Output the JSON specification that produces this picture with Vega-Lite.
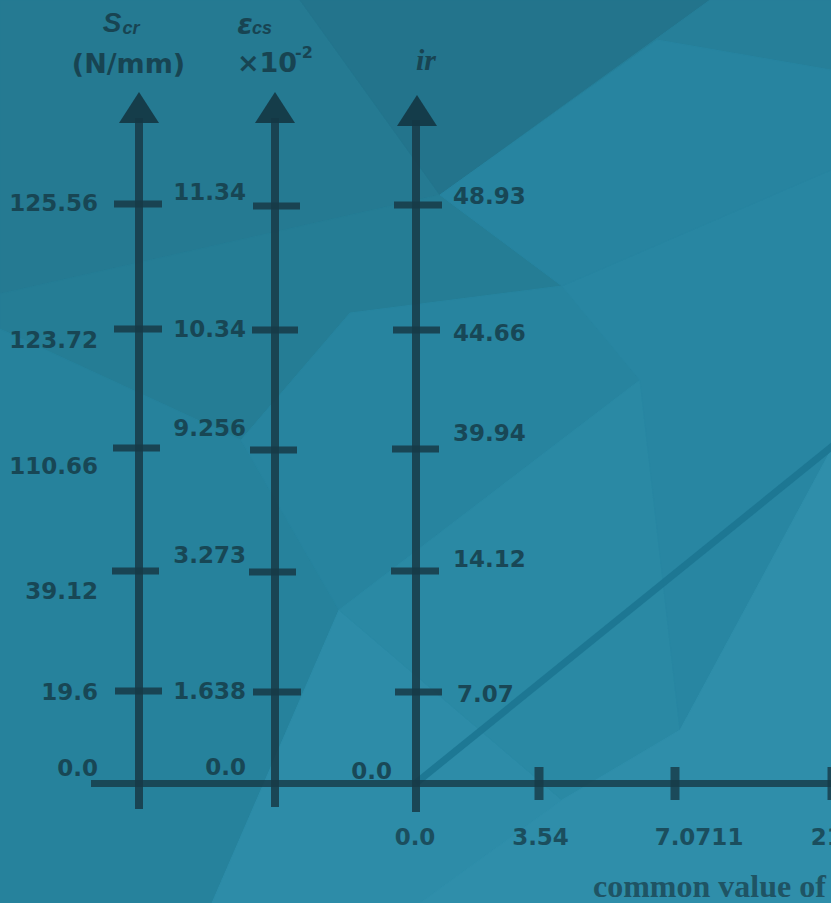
{
  "$schema": "https://vega.github.io/schema/vega-lite/v6.json",
  "width": 831,
  "height": 903,
  "autosize": "none",
  "padding": 0,
  "background": "#2785a0",
  "view": {"stroke": null},
  "config": {"font": "DejaVu Sans"},
  "datasets": {
    "bg": [
      {"p": "P1", "o": 1, "x": 0, "y": 0}, {"p": "P1", "o": 2, "x": 300, "y": 0}, {"p": "P1", "o": 3, "x": 440, "y": 195}, {"p": "P1", "o": 4, "x": 0, "y": 294},
      {"p": "P2", "o": 1, "x": 300, "y": 0}, {"p": "P2", "o": 2, "x": 710, "y": 0}, {"p": "P2", "o": 3, "x": 440, "y": 195},
      {"p": "P3", "o": 1, "x": 710, "y": 0}, {"p": "P3", "o": 2, "x": 831, "y": 0}, {"p": "P3", "o": 3, "x": 831, "y": 70}, {"p": "P3", "o": 4, "x": 657, "y": 40}, {"p": "P3", "o": 5, "x": 440, "y": 195},
      {"p": "P4", "o": 1, "x": 0, "y": 294}, {"p": "P4", "o": 2, "x": 440, "y": 195}, {"p": "P4", "o": 3, "x": 562, "y": 286}, {"p": "P4", "o": 4, "x": 350, "y": 313}, {"p": "P4", "o": 5, "x": 241, "y": 440}, {"p": "P4", "o": 6, "x": 0, "y": 329},
      {"p": "P5", "o": 1, "x": 0, "y": 329}, {"p": "P5", "o": 2, "x": 241, "y": 440}, {"p": "P5", "o": 3, "x": 339, "y": 610}, {"p": "P5", "o": 4, "x": 212, "y": 903}, {"p": "P5", "o": 5, "x": 0, "y": 903},
      {"p": "P6", "o": 1, "x": 241, "y": 440}, {"p": "P6", "o": 2, "x": 350, "y": 313}, {"p": "P6", "o": 3, "x": 562, "y": 286}, {"p": "P6", "o": 4, "x": 640, "y": 380}, {"p": "P6", "o": 5, "x": 339, "y": 610},
      {"p": "P7", "o": 1, "x": 339, "y": 610}, {"p": "P7", "o": 2, "x": 562, "y": 800}, {"p": "P7", "o": 3, "x": 420, "y": 903}, {"p": "P7", "o": 4, "x": 212, "y": 903},
      {"p": "P8", "o": 1, "x": 339, "y": 610}, {"p": "P8", "o": 2, "x": 640, "y": 380}, {"p": "P8", "o": 3, "x": 680, "y": 730}, {"p": "P8", "o": 4, "x": 562, "y": 800},
      {"p": "P9", "o": 1, "x": 562, "y": 286}, {"p": "P9", "o": 2, "x": 831, "y": 170}, {"p": "P9", "o": 3, "x": 831, "y": 450}, {"p": "P9", "o": 4, "x": 680, "y": 730}, {"p": "P9", "o": 5, "x": 640, "y": 380},
      {"p": "P10", "o": 1, "x": 657, "y": 40}, {"p": "P10", "o": 2, "x": 831, "y": 70}, {"p": "P10", "o": 3, "x": 831, "y": 170}, {"p": "P10", "o": 4, "x": 562, "y": 286}, {"p": "P10", "o": 5, "x": 440, "y": 195},
      {"p": "P11", "o": 1, "x": 680, "y": 730}, {"p": "P11", "o": 2, "x": 831, "y": 450}, {"p": "P11", "o": 3, "x": 831, "y": 903}, {"p": "P11", "o": 4, "x": 420, "y": 903}, {"p": "P11", "o": 5, "x": 562, "y": 800}
    ],
    "vlines": [
      {"x": 139, "y": 809, "y2": 118},
      {"x": 275, "y": 807, "y2": 118},
      {"x": 416, "y": 812, "y2": 120}
    ],
    "hline": [{"x": 91, "x2": 831, "y": 783.5}],
    "vticks": [
      {"x": 114, "x2": 162, "y": 204}, {"x": 114, "x2": 162, "y": 329}, {"x": 113, "x2": 160, "y": 448}, {"x": 112, "x2": 159, "y": 571}, {"x": 115, "x2": 162, "y": 691},
      {"x": 253, "x2": 300, "y": 206}, {"x": 252, "x2": 298, "y": 330}, {"x": 250, "x2": 297, "y": 450}, {"x": 249, "x2": 296, "y": 572}, {"x": 253, "x2": 301, "y": 692},
      {"x": 394, "x2": 442, "y": 205}, {"x": 393, "x2": 440, "y": 330}, {"x": 392, "x2": 439, "y": 449}, {"x": 391, "x2": 439, "y": 571}, {"x": 395, "x2": 442, "y": 692}
    ],
    "hticks": [
      {"x": 539, "y": 767, "y2": 800},
      {"x": 675, "y": 767, "y2": 800},
      {"x": 832, "y": 767, "y2": 800}
    ],
    "arrows": [
      {"x": 139, "y": 107.5},
      {"x": 275, "y": 107.5},
      {"x": 417, "y": 110.5}
    ],
    "diag": [
      {"x": 416, "y": 783},
      {"x": 840, "y": 440}
    ],
    "rlabels": [
      {"x": 98, "y": 204, "t": "125.56"}, {"x": 98, "y": 341, "t": "123.72"}, {"x": 98, "y": 467, "t": "110.66"}, {"x": 98, "y": 592, "t": "39.12"}, {"x": 98, "y": 693, "t": "19.6"}, {"x": 98, "y": 769, "t": "0.0"},
      {"x": 246, "y": 193, "t": "11.34"}, {"x": 246, "y": 330, "t": "10.34"}, {"x": 246, "y": 429, "t": "9.256"}, {"x": 246, "y": 556, "t": "3.273"}, {"x": 246, "y": 692, "t": "1.638"}, {"x": 246, "y": 768, "t": "0.0"},
      {"x": 392, "y": 771.5, "t": "0.0"}
    ],
    "llabels": [
      {"x": 453, "y": 197, "t": "48.93"}, {"x": 453, "y": 334, "t": "44.66"}, {"x": 453, "y": 434, "t": "39.94"}, {"x": 453, "y": 560, "t": "14.12"}, {"x": 457, "y": 695, "t": "7.07"}
    ],
    "blabels": [
      {"x": 415, "y": 838, "t": "0.0"}, {"x": 540.5, "y": 838, "t": "3.54"}, {"x": 699, "y": 838, "t": "7.0711"}, {"x": 847, "y": 838, "t": "21.21"}
    ],
    "title": [{"x": 593, "y": 897, "t": "common value of"}],
    "hS": [{"x": 112, "y": 24, "t": "S"}],
    "hE": [{"x": 245, "y": 26, "t": "ε"}],
    "hsub": [
      {"x": 131, "y": 29, "t": "cr"},
      {"x": 262, "y": 29, "t": "cs"}
    ],
    "hunit": [
      {"x": 128.5, "y": 65, "t": "(N/mm)"},
      {"x": 267, "y": 64, "t": "×10"}
    ],
    "hsup": [{"x": 304, "y": 53, "t": "-2"}],
    "hir": [{"x": 426, "y": 70, "t": "ir"}]
  },
  "encoding": {
    "x": {"field": "x", "type": "quantitative", "scale": {"domain": [0, 831], "nice": false, "zero": false}, "axis": null},
    "y": {"field": "y", "type": "quantitative", "scale": {"domain": [0, 903], "nice": false, "zero": false, "reverse": true}, "axis": null}
  },
  "layer": [
    {
      "data": {"name": "bg"},
      "mark": {"type": "line", "interpolate": "linear-closed", "strokeWidth": 1},
      "encoding": {
        "order": {"field": "o", "type": "quantitative"},
        "detail": {"field": "p", "type": "nominal"},
        "fill": {"field": "p", "type": "nominal", "legend": null, "scale": {"domain": ["P1","P2","P3","P4","P5","P6","P7","P8","P9","P10","P11"], "range": ["#257a92","#23748c","#267f99","#257d95","#26829c","#27849f","#2d8ca8","#2a89a4","#2886a2","#2784a0","#2f8eaa"]}},
        "stroke": {"field": "p", "type": "nominal", "legend": null, "scale": {"domain": ["P1","P2","P3","P4","P5","P6","P7","P8","P9","P10","P11"], "range": ["#257a92","#23748c","#267f99","#257d95","#26829c","#27849f","#2d8ca8","#2a89a4","#2886a2","#2784a0","#2f8eaa"]}}
      }
    },
    {
      "data": {"name": "diag"},
      "mark": {"type": "line", "stroke": "#1b7490", "strokeWidth": 7, "opacity": 0.85, "strokeCap": "butt"},
      "encoding": {}
    },
    {
      "data": {"name": "hline"},
      "mark": {"type": "rule", "stroke": "#173a46", "strokeWidth": 7, "opacity": 0.8},
      "encoding": {"x2": {"field": "x2"}}
    },
    {
      "data": {"name": "vlines"},
      "mark": {"type": "rule", "stroke": "#173a46", "strokeWidth": 8, "opacity": 0.85},
      "encoding": {"y2": {"field": "y2"}}
    },
    {
      "data": {"name": "vticks"},
      "mark": {"type": "rule", "stroke": "#173a46", "strokeWidth": 7, "opacity": 0.85},
      "encoding": {"x2": {"field": "x2"}}
    },
    {
      "data": {"name": "hticks"},
      "mark": {"type": "rule", "stroke": "#173a46", "strokeWidth": 9, "opacity": 0.8},
      "encoding": {"y2": {"field": "y2"}}
    },
    {
      "data": {"name": "arrows"},
      "mark": {"type": "point", "shape": "M0,-0.78L1,0.78L-1,0.78Z", "size": 1600, "filled": true, "fill": "#133744", "opacity": 0.92, "strokeWidth": 0}
    },
    {
      "data": {"name": "rlabels"},
      "mark": {"type": "text", "align": "right", "baseline": "middle", "font": "DejaVu Sans", "fontWeight": "bold", "fontSize": 23, "fill": "#173f4c", "opacity": 0.88},
      "encoding": {"text": {"field": "t"}}
    },
    {
      "data": {"name": "llabels"},
      "mark": {"type": "text", "align": "left", "baseline": "middle", "font": "DejaVu Sans", "fontWeight": "bold", "fontSize": 23, "fill": "#173f4c", "opacity": 0.88},
      "encoding": {"text": {"field": "t"}}
    },
    {
      "data": {"name": "blabels"},
      "mark": {"type": "text", "align": "center", "baseline": "middle", "font": "DejaVu Sans", "fontWeight": "bold", "fontSize": 23, "fill": "#173f4c", "opacity": 0.8},
      "encoding": {"text": {"field": "t"}}
    },
    {
      "data": {"name": "title"},
      "mark": {"type": "text", "align": "left", "baseline": "alphabetic", "font": "Liberation Serif", "fontWeight": "bold", "fontSize": 32, "fill": "#1d4a58", "opacity": 0.85},
      "encoding": {"text": {"field": "t"}}
    },
    {
      "data": {"name": "hS"},
      "mark": {"type": "text", "align": "center", "baseline": "middle", "font": "Liberation Sans", "fontWeight": "bold", "fontStyle": "italic", "fontSize": 28, "fill": "#173f4c", "opacity": 0.9},
      "encoding": {"text": {"field": "t"}}
    },
    {
      "data": {"name": "hE"},
      "mark": {"type": "text", "align": "center", "baseline": "middle", "font": "DejaVu Sans", "fontWeight": "bold", "fontStyle": "italic", "fontSize": 28, "fill": "#173f4c", "opacity": 0.9},
      "encoding": {"text": {"field": "t"}}
    },
    {
      "data": {"name": "hsub"},
      "mark": {"type": "text", "align": "center", "baseline": "middle", "font": "Liberation Sans", "fontWeight": "bold", "fontStyle": "italic", "fontSize": 18, "fill": "#173f4c", "opacity": 0.9},
      "encoding": {"text": {"field": "t"}}
    },
    {
      "data": {"name": "hunit"},
      "mark": {"type": "text", "align": "center", "baseline": "middle", "font": "DejaVu Sans", "fontWeight": "bold", "fontSize": 27, "fill": "#173f4c", "opacity": 0.9},
      "encoding": {"text": {"field": "t"}}
    },
    {
      "data": {"name": "hsup"},
      "mark": {"type": "text", "align": "center", "baseline": "middle", "font": "DejaVu Sans", "fontWeight": "bold", "fontSize": 16, "fill": "#173f4c", "opacity": 0.9},
      "encoding": {"text": {"field": "t"}}
    },
    {
      "data": {"name": "hir"},
      "mark": {"type": "text", "align": "center", "baseline": "alphabetic", "font": "Liberation Serif", "fontWeight": "bold", "fontStyle": "italic", "fontSize": 30, "fill": "#173f4c", "opacity": 0.9},
      "encoding": {"text": {"field": "t"}}
    }
  ]
}
